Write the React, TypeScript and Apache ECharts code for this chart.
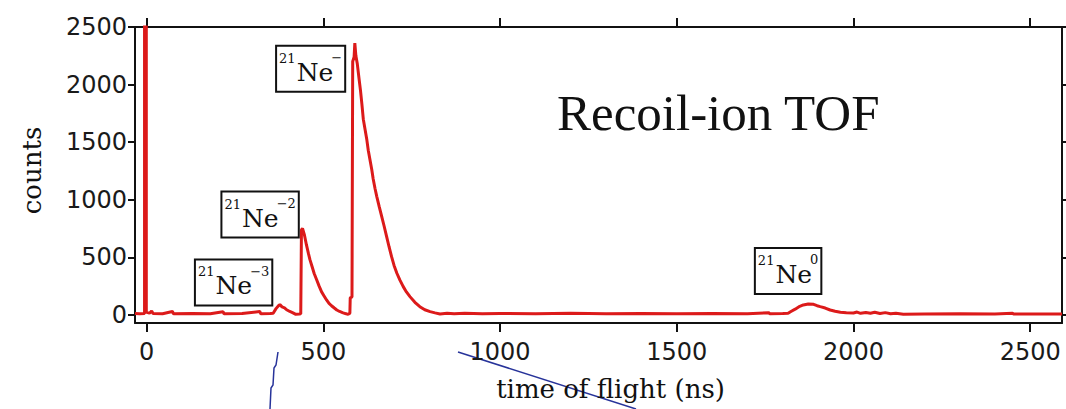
import React, { useEffect, useRef } from "react";
import * as echarts from "echarts";

// Recoil-ion time-of-flight spectrum: [time (ns), counts]
const spectrum: [number, number][] = [
  [-33, 12], [-20, 10], [-6, 12], [-6, 2700], [-1, 2700], [-1, 25], [8, 15], [14, 35], [18, 12],
  [45, 10], [73, 30], [76, 10], [130, 12], [180, 10], [216, 28], [219, 10], [270, 12], [320, 30],
  [323, 10], [350, 12],
  // 21Ne-3
  [358, 15], [366, 55], [373, 80], [377, 90], [383, 70], [390, 62], [396, 45], [405, 30], [414, 18],
  [422, 5], [432, 8],
  // 21Ne-2
  [436, 10], [438, 740], [441, 750], [446, 700], [452, 610], [458, 530], [462, 480], [468, 420],
  [474, 360], [481, 305], [488, 250], [495, 200], [502, 165], [509, 130], [516, 100], [523, 80],
  [531, 60], [538, 43], [546, 30], [554, 20], [562, 12], [570, 5],
  // 21Ne-
  [575, 15], [576, 150], [581, 155], [583, 2200], [587, 2240], [589, 2360], [592, 2250],
  [596, 2180], [601, 2050], [605, 1950], [609, 1830], [613, 1700], [618, 1610], [623, 1520],
  [627, 1430], [632, 1345], [637, 1260], [641, 1180], [646, 1100], [651, 1030], [658, 940],
  [665, 855], [672, 770], [679, 680], [686, 590], [693, 506], [700, 430], [708, 362], [717, 300],
  [726, 246], [735, 200], [745, 159], [759, 110], [773, 72], [787, 45], [802, 29], [816, 18],
  [830, 8],
  [850, 15], [870, 10], [900, 14], [950, 10], [1000, 12], [1100, 10], [1200, 14], [1300, 10],
  [1400, 12], [1500, 10], [1600, 12], [1700, 10], [1760, 20], [1763, 10], [1800, 12],
  // 21Ne0
  [1815, 15], [1823, 30], [1835, 50], [1848, 75], [1858, 87], [1872, 95], [1887, 92], [1897, 80],
  [1906, 72], [1920, 60], [1934, 43], [1948, 32], [1963, 23], [1980, 20], [2000, 17], [2010, 25],
  [2020, 14], [2035, 22], [2048, 15], [2060, 24], [2075, 12], [2090, 20], [2105, 10], [2120, 15],
  [2141, 6], [2200, 8], [2300, 10], [2400, 8], [2450, 14], [2453, 8], [2500, 8], [2590, 8],
];

const xTicks = [0, 500, 1000, 1500, 2000, 2500];
const yTicks = [0, 500, 1000, 1500, 2000, 2500];
const xRange = [-33, 2590];
const yRange = [-70, 2500];

// Peak labels: mass number, charge, and anchor in data coordinates
const peakMass = ["21", "21", "21", "21"];
const peakCharge = ["\u22123", "\u22122", "\u2212", "0"];
const peakLabelNs = [246, 321, 464, 1815];
const peakLabelCounts = [282, 872, 2137, 382];

const titleText = "Recoil-ion TOF";
const xName = "time of flight (ns)";
const yName = "counts";

const INK = "#111";
const SANS = "'DejaVu Sans', Verdana, sans-serif";
const SERIF = "'DejaVu Serif', serif";

export default function App() {
  const ref = useRef<HTMLDivElement>(null);

  useEffect(() => {
    if (!ref.current) return;
    const chart = echarts.init(ref.current, null, { renderer: "svg" });

    const frameLine = { show: true, onZero: false, lineStyle: { color: INK, width: 2 } };
    const tickStyle = (len: number, values: number[]) => ({
      show: true,
      inside: false,
      length: len,
      customValues: values,
      lineStyle: { color: INK, width: 2 },
    });

    chart.setOption({
      animation: false,
      backgroundColor: "#fff",
      grid: { left: 135, right: 4, top: 27, bottom: 86, containLabel: false, outerBoundsMode: "none" },
      xAxis: [
        {
          type: "value",
          position: "bottom",
          min: xRange[0],
          max: xRange[1],
          axisLine: frameLine,
          axisTick: tickStyle(9, xTicks),
          splitLine: { show: false },
          axisLabel: {
            customValues: xTicks,
            margin: 17,
            color: "#1a1a1a",
            fontFamily: SANS,
            fontSize: 24,
            formatter: (v: number) => String(v),
          },
          name: xName,
          nameLocation: "middle",
          nameGap: 53,
          nameTextStyle: { fontFamily: SERIF, fontSize: 26, color: INK, padding: [0, 0, 0, 24] },
        },
        {
          type: "value",
          position: "top",
          min: xRange[0],
          max: xRange[1],
          axisLine: frameLine,
          axisTick: tickStyle(9, xTicks),
          splitLine: { show: false },
          axisLabel: { show: false },
        },
      ],
      yAxis: [
        {
          type: "value",
          position: "left",
          min: yRange[0],
          max: yRange[1],
          axisLine: frameLine,
          axisTick: tickStyle(7, yTicks),
          splitLine: { show: false },
          axisLabel: {
            customValues: yTicks,
            margin: 8,
            color: "#1a1a1a",
            fontFamily: SANS,
            fontSize: 24,
            formatter: (v: number) => String(v),
          },
          name: yName,
          nameLocation: "middle",
          nameGap: 90,
          nameTextStyle: { fontFamily: SERIF, fontSize: 26, color: INK, padding: [0, 0, 0, 9] },
        },
        {
          type: "value",
          position: "right",
          min: yRange[0],
          max: yRange[1],
          axisLine: frameLine,
          axisTick: tickStyle(7, yTicks),
          splitLine: { show: false },
          axisLabel: { show: false },
        },
      ],
      series: [
        {
          type: "line",
          xAxisIndex: 0,
          yAxisIndex: 0,
          data: spectrum,
          showSymbol: false,
          symbol: "none",
          clip: true,
          lineStyle: { color: "#dc1a1a", width: 3 },
          z: 3,
        },
      ],
    });

    // Peak label boxes, placed from their data anchors
    const ctx = document.createElement("canvas").getContext("2d")!;
    const measure = (t: string, font: string) => {
      ctx.font = font;
      return ctx.measureText(t).width;
    };
    const supFont = `13px ${SERIF}`;
    const neFont = `25px ${SERIF}`;
    const boxH = 46;

    const boxes = peakLabelNs.map((ns, i) => {
      const [cx, cy] = chart.convertToPixel({ xAxisIndex: 0, yAxisIndex: 0 }, [ns, peakLabelCounts[i]]);
      const wMass = measure(peakMass[i], supFont);
      const wNe = measure("Ne", neFont);
      const wCharge = measure(peakCharge[i], supFont);
      const w = 3 + wMass + 1 + wNe - 2 + wCharge + 3;
      const left = -w / 2;
      const top = -boxH / 2;
      const neX = left + 3 + wMass + 1;
      return {
        type: "group",
        x: cx,
        y: cy,
        z: 10,
        children: [
          {
            type: "rect",
            shape: { x: left, y: top, width: w, height: boxH },
            style: { fill: "#fff", stroke: INK, lineWidth: 2 },
          },
          {
            type: "text",
            x: left + 3,
            y: top + 12.5,
            style: { text: peakMass[i], font: supFont, fill: INK, align: "left", verticalAlign: "middle" },
          },
          {
            type: "text",
            x: neX,
            y: top + 26.5,
            style: { text: "Ne", font: neFont, fill: INK, align: "left", verticalAlign: "middle" },
          },
          {
            type: "text",
            x: neX + wNe - 2,
            y: top + 12,
            style: { text: peakCharge[i], font: supFont, fill: INK, align: "left", verticalAlign: "middle" },
          },
        ],
      };
    });

    chart.setOption({
      graphic: {
        elements: [
          {
            type: "text",
            x: 557,
            y: 113,
            style: {
              text: titleText,
              font: `51px 'Liberation Serif', 'Times New Roman', serif`,
              fill: INK,
              align: "left",
              verticalAlign: "middle",
            },
          },
          // ink strokes crossing the lower margin
          {
            type: "polyline",
            shape: { points: [[278, 352], [276, 365], [274, 368], [273, 385], [271, 388], [270, 409]] },
            style: { stroke: "#27339a", lineWidth: 1.5, fill: "none" },
          },
          {
            type: "line",
            shape: { x1: 458, y1: 352, x2: 636, y2: 409 },
            style: { stroke: "#27339a", lineWidth: 1.5 },
          },
          ...boxes,
        ],
      },
    });

    return () => chart.dispose();
  }, []);

  return (
    <div
      ref={ref}
      style={{ position: "fixed", left: 0, top: 0, width: 1066, height: 409, background: "#fff" }}
    />
  );
}
